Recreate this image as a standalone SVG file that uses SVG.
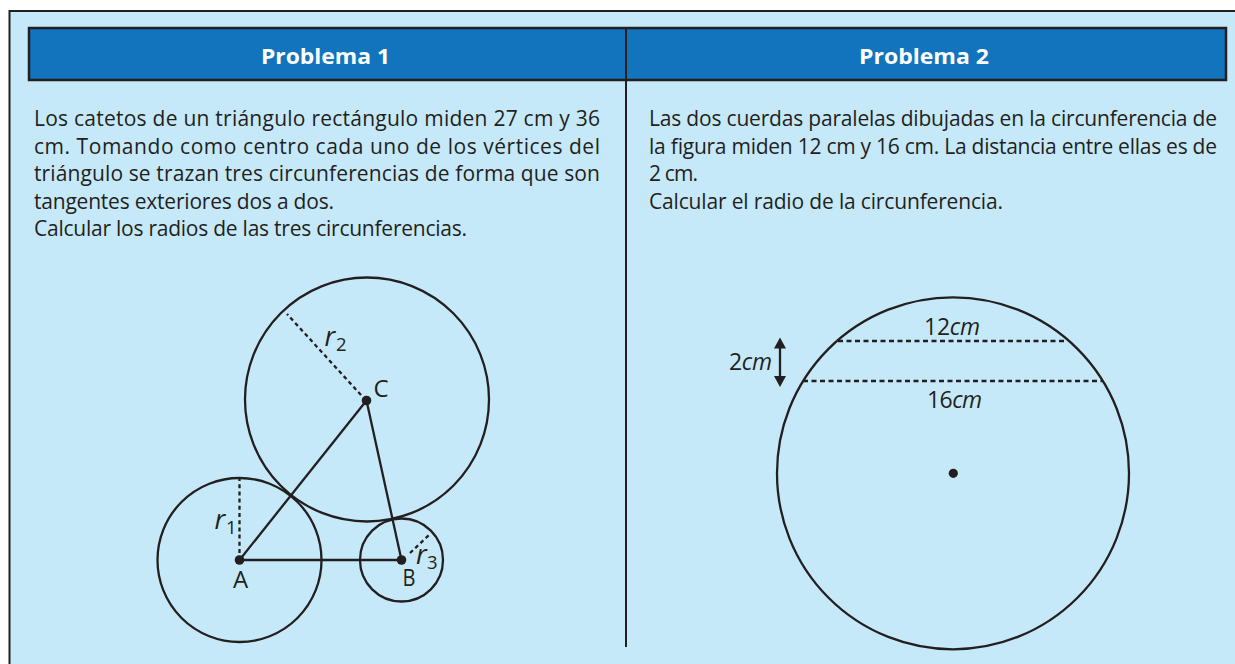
<svg xmlns="http://www.w3.org/2000/svg" width="1235" height="664" viewBox="0 0 1235 664">
<style>
.body{font-family:"Open Sans","Liberation Sans",sans-serif;font-size:21px;fill:#231f20}
.head{font-family:"Open Sans","Liberation Sans",sans-serif;font-size:21.5px;font-weight:bold;fill:#ffffff}
.lbl{font-family:"Open Sans","Liberation Sans",sans-serif;font-size:24px;fill:#231f20}
.fig2{font-size:23px}
.it{font-style:italic}
.ln{stroke:#231f20;stroke-width:2.3;fill:none}
.dash{stroke:#231f20;stroke-width:2.3;fill:none;stroke-dasharray:4 3.2}
.dash2{stroke:#231f20;stroke-width:2.3;fill:none;stroke-dasharray:5 3.5}
.dot{fill:#231f20}
</style>
<rect x="0" y="0" width="1235" height="664" fill="#ffffff"/>
<rect id="frame" x="9.5" y="11" width="1240" height="700" fill="#c6e9f9" stroke="#231f20" stroke-width="2"/>
<g id="header">
<rect x="29" y="28" width="1197" height="52" fill="#1174bc" stroke="#231f20" stroke-width="2.5"/>
<text class="head" x="325.5" y="63.5" text-anchor="middle" textLength="129" lengthAdjust="spacingAndGlyphs">Problema 1</text>
<text class="head" x="924" y="63.5" text-anchor="middle" textLength="130" lengthAdjust="spacingAndGlyphs">Problema 2</text>
</g>
<line id="divider" x1="626" y1="28" x2="626" y2="647" stroke="#231f20" stroke-width="2"/>
<g id="text1" class="body">
<text x="34" y="126" textLength="566" lengthAdjust="spacing">Los catetos de un triángulo rectángulo miden 27 cm y 36</text>
<text x="34" y="153.5" textLength="566" lengthAdjust="spacing">cm. Tomando como centro cada uno de los vértices del</text>
<text x="34" y="181" textLength="566" lengthAdjust="spacing">triángulo se trazan tres circunferencias de forma que son</text>
<text x="34" y="208.5" textLength="300" lengthAdjust="spacing">tangentes exteriores dos a dos.</text>
<text x="34" y="236" textLength="433" lengthAdjust="spacing">Calcular los radios de las tres circunferencias.</text>
</g>
<g id="text2" class="body">
<text x="649" y="126" textLength="568" lengthAdjust="spacing">Las dos cuerdas paralelas dibujadas en la circunferencia de</text>
<text x="649" y="153.5" textLength="568" lengthAdjust="spacing">la figura miden 12 cm y 16 cm. La distancia entre ellas es de</text>
<text x="649" y="181" textLength="49" lengthAdjust="spacing">2 cm.</text>
<text x="649" y="208.5" textLength="354" lengthAdjust="spacing">Calcular el radio de la circunferencia.</text>
</g>
<g id="figure1">
<circle class="ln" cx="367" cy="399.5" r="122"/>
<circle class="ln" cx="239.5" cy="560" r="82"/>
<circle class="ln" cx="401.5" cy="560" r="41.5"/>
<g id="connectors">
<line class="ln" x1="239.5" y1="560" x2="366.5" y2="400.5"/>
<line class="ln" x1="366.5" y1="400.5" x2="401.5" y2="560"/>
<line class="ln" x1="239.5" y1="560" x2="401.5" y2="560"/>
<line class="dash" x1="239.5" y1="553" x2="239.5" y2="479"/>
<line class="dash" x1="361" y1="395" x2="287" y2="314"/>
<line class="dash" x1="410" y1="553" x2="429" y2="535"/>
</g>
<circle class="dot" cx="239.5" cy="560" r="4.8"/>
<circle class="dot" cx="401.5" cy="560" r="4.8"/>
<circle class="dot" cx="366.5" cy="400.5" r="4.8"/>
<text class="lbl" x="240.5" y="588" text-anchor="middle">A</text>
<text class="lbl" x="402.5" y="586" textLength="13" lengthAdjust="spacingAndGlyphs">B</text>
<text class="lbl" x="373.5" y="397">C</text>
<text class="lbl" x="214.5" y="528.5"><tspan class="it" font-size="27">r</tspan><tspan font-size="18.5" x="226" y="534.3">1</tspan></text>
<text class="lbl" x="324.5" y="345.7"><tspan class="it" font-size="27">r</tspan><tspan font-size="18.5" x="336" y="351">2</tspan></text>
<text class="lbl" x="416" y="564"><tspan class="it" font-size="27">r</tspan><tspan font-size="18.5" x="427" y="569.3">3</tspan></text>
</g>
<g id="figure2">
<circle class="ln" cx="953" cy="473.3" r="176"/>
<circle class="dot" cx="953.3" cy="473.3" r="4.6"/>
<line class="dash2" x1="838" y1="341" x2="1066" y2="341"/>
<line class="dash2" x1="803" y1="381" x2="1102" y2="381"/>
<line class="ln" x1="780" y1="346" x2="780" y2="379" stroke-width="2.5"/>
<polygon class="dot" points="780,337.5 786,348.5 774,348.5"/>
<polygon class="dot" points="780,387 786,376 774,376"/>
<text class="lbl fig2" x="924" y="335" textLength="56" lengthAdjust="spacing">12<tspan class="it">cm</tspan></text>
<text class="lbl fig2" x="927" y="408" textLength="55" lengthAdjust="spacing">16<tspan class="it">cm</tspan></text>
<text class="lbl fig2" x="729" y="370" textLength="43" lengthAdjust="spacing">2<tspan class="it">cm</tspan></text>
</g>
</svg>
